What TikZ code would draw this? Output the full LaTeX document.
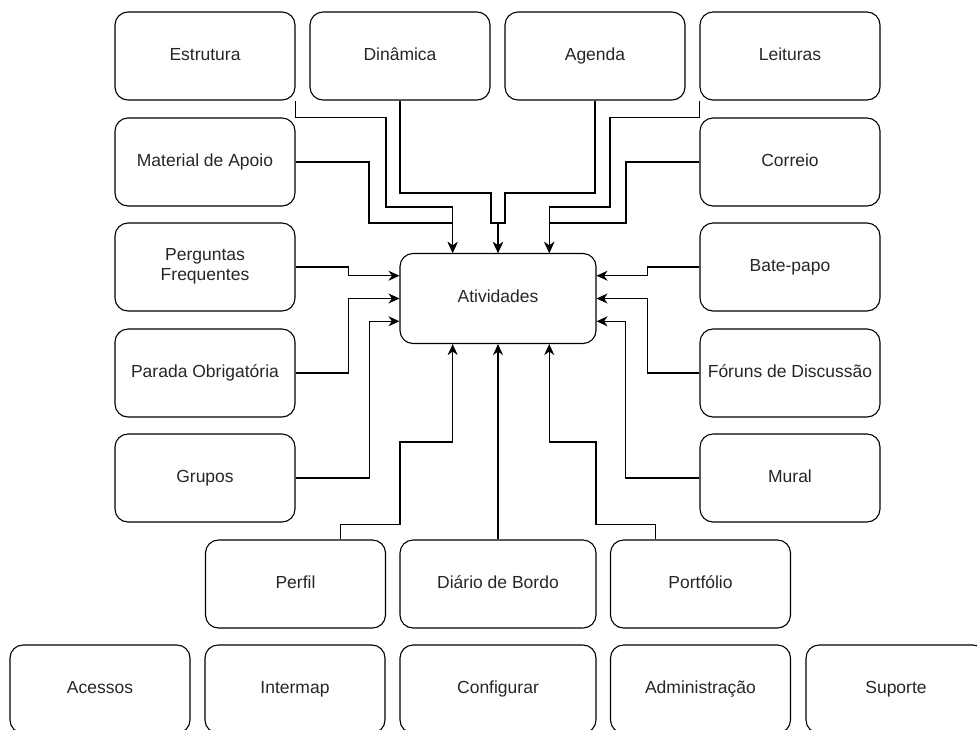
\documentclass[tikz,border=0pt]{standalone}
\usepackage{fontspec}
\setmainfont{Liberation Sans}
\usetikzlibrary{calc,arrows.meta}
\begin{document}
\begin{tikzpicture}[x=1pt,y=-1pt,
  box/.style={draw,line width=1.1pt,rounded corners=13pt,minimum width=180pt,minimum height=88pt,inner sep=2pt,font=\fontsize{17.5}{20}\selectfont,align=center,text=black!85,execute at begin node=\strut},
  wbox/.style={box,minimum width=196pt},
  conn/.style={draw,line width=1.1pt},
  arr/.style={conn,-{Stealth[length=11pt,width=10pt,inset=3.5pt]}}]
\useasboundingbox (0,0) rectangle (977,729);
% top row
\node[box] (estr) at (205,56) {Estrutura};
\node[box] (din) at (400,56) {Dinâmica};
\node[box] (agen) at (595,56) {Agenda};
\node[box] (leit) at (790,56) {Leituras};
% left column
\node[box] (mat) at (205,162) {Material de Apoio};
\node[box] (perg) at (205,267) {Perguntas\\Frequentes\strut};
\node[box] (par) at (205,373) {Parada Obrigatória};
\node[box] (grp) at (205,478) {Grupos};
% right column
\node[box] (corr) at (790,162) {Correio};
\node[box] (bate) at (790,267) {Bate-papo};
\node[box] (foru) at (790,373) {Fóruns de Discussão};
\node[box] (mur) at (790,478) {Mural};
% center
\node[wbox,minimum height=90pt] (ativ) at (498,298.5) {Atividades};
% middle row
\node[box] (perf) at (295.5,584) {Perfil};
\node[wbox] (diar) at (498,584) {Diário de Bordo};
\node[box] (port) at (700.5,584) {Portfólio};
% bottom row
\node[box] (aces) at (100,689) {Acessos};
\node[box] (inter) at (295,689) {Intermap};
\node[wbox] (conf) at (498,689) {Configurar};
\node[box] (adm) at (700.5,689) {Administração};
\node[box] (sup) at (896,689) {Suporte};
% ports
\coordinate (aT1) at ($(ativ.north west)!.27!(ativ.north east)$);
\coordinate (aT3) at ($(ativ.north west)!.76!(ativ.north east)$);
\coordinate (aB1) at ($(ativ.south west)!.27!(ativ.south east)$);
\coordinate (aB3) at ($(ativ.south west)!.76!(ativ.south east)$);
\coordinate (aL1) at ($(ativ.north west)!.25!(ativ.south west)$);
\coordinate (aL3) at ($(ativ.north west)!.75!(ativ.south west)$);
\coordinate (aR1) at ($(ativ.north east)!.25!(ativ.south east)$);
\coordinate (aR3) at ($(ativ.north east)!.75!(ativ.south east)$);
\coordinate (pP) at ($(perf.north west)!.75!(perf.north east)$);
\coordinate (pQ) at ($(port.north west)!.25!(port.north east)$);
% connectors top
\draw[arr] (estr.south east) -- ++(0,17) -| (386,207) -| (aT1);
\draw[arr] (mat.east) -| (369,223) -| (aT1);
\draw[arr] (din.south) |- (491,193) -- (491,223) -| (ativ.north);
\draw[arr] (agen.south) |- (505,193) -- (505,223) -| (ativ.north);
\draw[arr] (leit.south west) -- ++(0,17) -| (610,207) -| (aT3);
\draw[arr] (corr.west) -| (626,223) -| (aT3);
% left
\draw[arr] (perg.east) -- ++(53,0) |- (aL1);
\draw[arr] (par.east) -- ++(53,0) |- (ativ.west);
\draw[arr] (grp.east) -- ++(74,0) |- (aL3);
% right
\draw[arr] (bate.west) -- ++(-52,0) |- (aR1);
\draw[arr] (foru.west) -- ++(-52,0) |- (ativ.east);
\draw[arr] (mur.west) -- ++(-74,0) |- (aR3);
% bottom
\draw[arr] (pP) -- ++(0,-15) -| (400,442) -| (aB1);
\draw[arr] (diar.north) -- (ativ.south);
\draw[arr] (pQ) -- ++(0,-15) -| (596,442) -| (aB3);
\end{tikzpicture}
\end{document}
